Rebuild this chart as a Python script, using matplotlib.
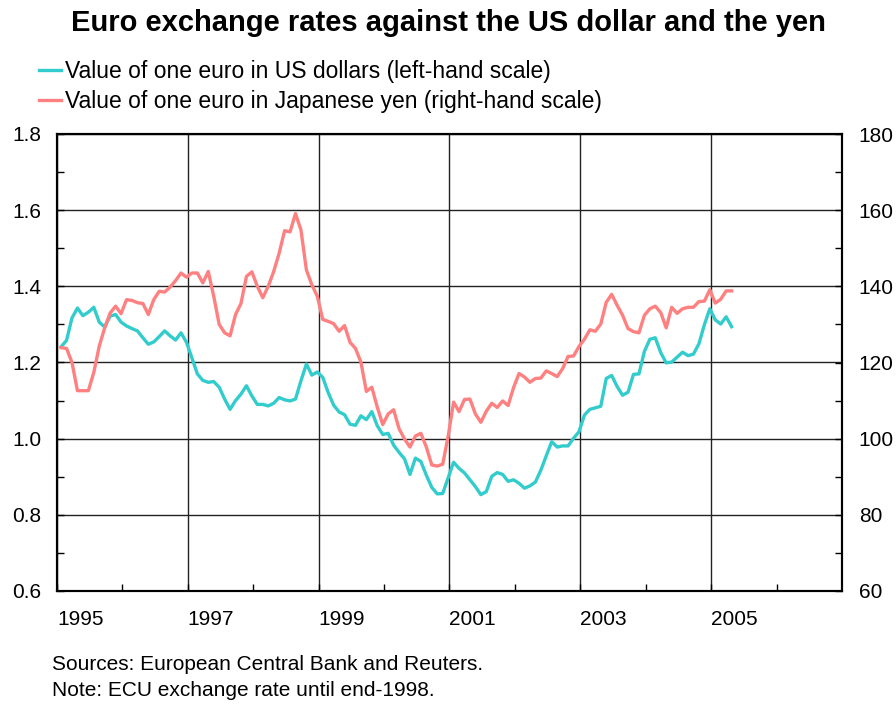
import numpy as np
import matplotlib
matplotlib.use("Agg")
from matplotlib import pyplot as plt
from matplotlib.ticker import MultipleLocator, FixedLocator

plt.rcParams['font.family'] = ['Liberation Sans', 'DejaVu Sans']

title = "Euro exchange rates against the US dollar and the yen"
usd_label = "Value of one euro in US dollars (left-hand scale)"
jpy_label = "Value of one euro in Japanese yen (right-hand scale)"
notes = ["Sources: European Central Bank and Reuters.",
         "Note: ECU exchange rate until end-1998."]

start_year = 1995
# monthly averages, Jan 1995 - Apr 2005
usd = [1.241, 1.258, 1.317, 1.343, 1.323, 1.332, 1.345, 1.306, 1.293, 1.322, 1.326, 1.306,
       1.296, 1.289, 1.283, 1.265, 1.248, 1.254, 1.268, 1.283, 1.270, 1.259, 1.278, 1.253,
       1.212, 1.170, 1.153, 1.148, 1.150, 1.135, 1.104, 1.077, 1.100, 1.117, 1.139, 1.112,
       1.090, 1.090, 1.086, 1.093, 1.108, 1.102, 1.099, 1.104, 1.152, 1.196, 1.167, 1.175,
       1.161, 1.121, 1.088, 1.070, 1.063, 1.038, 1.035, 1.060, 1.050, 1.071, 1.034, 1.011,
       1.014, 0.983, 0.964, 0.947, 0.906, 0.949, 0.940, 0.904, 0.872, 0.855, 0.856, 0.897,
       0.938, 0.922, 0.910, 0.892, 0.874, 0.853, 0.861, 0.901, 0.911, 0.906, 0.888, 0.892,
       0.883, 0.870, 0.876, 0.886, 0.917, 0.955, 0.992, 0.978, 0.981, 0.981, 1.001, 1.018,
       1.062, 1.077, 1.081, 1.085, 1.158, 1.166, 1.137, 1.114, 1.122, 1.169, 1.170, 1.229,
       1.261, 1.265, 1.226, 1.199, 1.201, 1.214, 1.227, 1.218, 1.222, 1.249, 1.299, 1.341,
       1.312, 1.301, 1.320, 1.294]
jpy = [123.9, 123.7, 120.0, 112.6, 112.6, 112.6, 117.4, 124.3, 129.1, 133.0, 134.8, 132.8,
       136.5, 136.3, 135.7, 135.5, 132.6, 136.5, 138.7, 138.5, 139.8, 141.5, 143.5, 142.4,
       143.5, 143.5, 140.9, 143.9, 137.4, 130.0, 127.8, 127.0, 132.6, 135.5, 142.6, 143.8,
       140.0, 137.0, 140.0, 143.9, 148.7, 154.6, 154.3, 159.1, 154.8, 144.3, 140.4, 137.4,
       131.3, 130.8, 130.2, 128.2, 129.7, 125.3, 123.7, 120.1, 112.4, 113.5, 108.3, 103.7,
       106.5, 107.6, 102.6, 99.9, 97.8, 100.7, 101.4, 97.8, 93.1, 92.8, 93.3, 100.6,
       109.6, 107.1, 110.3, 110.4, 106.5, 104.3, 107.2, 109.3, 108.2, 109.9, 108.7, 113.4,
       117.1, 116.2, 114.8, 115.8, 115.9, 117.8, 117.1, 116.3, 118.4, 121.6, 121.7, 124.2,
       126.1, 128.6, 128.2, 130.1, 135.8, 137.9, 135.0, 132.4, 128.9, 128.1, 127.8, 132.4,
       134.1, 134.8, 133.1, 129.1, 134.5, 132.9, 134.1, 134.5, 134.5, 136.0, 136.1, 139.1,
       135.6, 136.6, 138.8, 138.8]
year_labels = ['1995', '1997', '1999', '2001', '2003', '2005']

blue = '#33CCCC'
red = '#FF8080'

months = np.arange(len(usd))
t = start_year + (months + 0.75) / 12.0

fig = plt.figure(figsize=(8.96, 7.04), dpi=100)
ax = fig.add_axes([57 / 896, 1 - 591 / 704, (842 - 57) / 896, (591 - 134) / 704])
ax2 = ax.twinx()

l1, = ax.plot(t, usd, color=blue, lw=2.4, solid_joinstyle='round')
l2, = ax2.plot(t, jpy, color=red, lw=2.4, solid_joinstyle='round')

ax.set_xlim(1995, 2007)
ax.set_ylim(0.6, 1.8)
ax2.set_ylim(60, 180)

ax.xaxis.set_major_locator(FixedLocator([int(y) for y in year_labels]))
ax.xaxis.set_minor_locator(FixedLocator([1996, 1998, 2000, 2002, 2004, 2006]))
ax.set_xticklabels(year_labels)
for lab in ax.get_xticklabels():
    lab.set_ha('left')

ax.set_yticks(np.arange(0.6, 1.81, 0.2))
ax.set_yticklabels(['%.1f' % v for v in np.arange(0.6, 1.81, 0.2)])
ax.yaxis.set_minor_locator(MultipleLocator(0.1))
ax2.yaxis.set_major_locator(MultipleLocator(20))
ax2.yaxis.set_minor_locator(MultipleLocator(10))

ax.grid(True, which='major', color='#222222', lw=1.0)
ax.set_axisbelow(True)

ax.tick_params(axis='x', which='both', direction='in', length=5, width=1, top=False,
               labelsize=15, pad=14)
ax.tick_params(axis='y', which='both', direction='in', length=5, width=1, right=False,
               labelsize=15, pad=11)
ax2.tick_params(axis='y', which='both', direction='in', length=5, width=1,
                labelsize=15, pad=12)
for a in (ax, ax2):
    for s in a.spines.values():
        s.set_linewidth(1.5)

fig.text(0.5, 0.967, title, ha='center', va='center', fontsize=21, fontweight='bold')
fig.legend([l1, l2], [usd_label, jpy_label], loc='upper left',
           bbox_to_anchor=(39 / 896, 1 - 60 / 704), frameon=False, fontsize=16.5,
           handlelength=0.95, handletextpad=0.18, labelspacing=0.3,
           borderpad=0, borderaxespad=0)
fig.text(52 / 896, 1 - 664 / 704, notes[0], ha='left', va='center', fontsize=15)
fig.text(52 / 896, 1 - 691 / 704, notes[1], ha='left', va='center', fontsize=15)

fig.savefig('out.png', dpi=100)
